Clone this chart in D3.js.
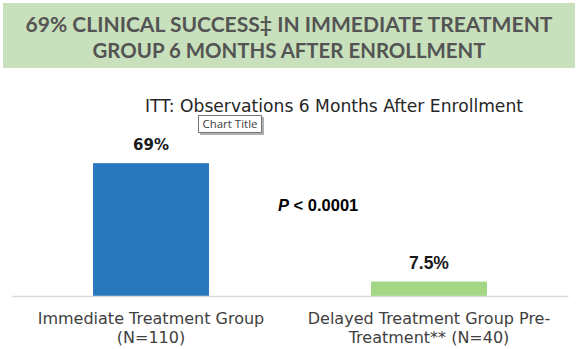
<!DOCTYPE html>
<html><head><meta charset="utf-8">
<script src="https://cdn.jsdelivr.net/npm/d3@7"></script>
<style>
html,body{margin:0;padding:0;background:#fff;}
svg{display:block;}
</style></head>
<body>
<svg id="chart" width="581" height="349"></svg>
<script>
const headerLines = ["69% CLINICAL SUCCESS\u2021 IN IMMEDIATE TREATMENT", "GROUP 6 MONTHS AFTER ENROLLMENT"];
const chartTitle = "ITT: Observations 6 Months After Enrollment";
const categories = ["Immediate Treatment Group (N=110)", "Delayed Treatment Group Pre-Treatment** (N=40)"];
const categoryLines = [["Immediate Treatment Group", "(N=110)"], ["Delayed Treatment Group Pre-", "Treatment** (N=40)"]];
const values = [69, 7.5];
const valueLabels = ["69%", "7.5%"];
const barColors = ["#2878bd", "#a3d685"];
const pValueText = ["P", " < 0.0001"];

const svg = d3.select("#chart");
const geo = "'DejaVu Sans', 'Century Gothic', sans-serif";

// Header banner
svg.append("rect").attr("x", 3).attr("y", 3).attr("width", 572).attr("height", 65).attr("fill", "#c8e1bc");
const headerWidths = [527, 393];
const headerBase = [32, 58];
headerLines.forEach((t, i) => {
  svg.append("text").attr("x", 289).attr("y", headerBase[i]).attr("text-anchor", "middle")
    .attr("font-family", "Lato, 'DejaVu Sans', sans-serif").attr("font-weight", "bold").attr("font-size", 21)
    .attr("fill", "#545454").attr("textLength", headerWidths[i]).attr("lengthAdjust", "spacingAndGlyphs")
    .text(t);
});

// Chart title
svg.append("text").attr("x", 334).attr("y", 112).attr("text-anchor", "middle")
  .attr("font-family", geo).attr("font-size", 17.5).attr("fill", "#262626")
  .attr("textLength", 378).attr("lengthAdjust", "spacingAndGlyphs").text(chartTitle);

// Scales
const x = d3.scaleBand().domain(categories).range([12, 568]).paddingInner(0.583).paddingOuter(0.2915);
const y = d3.scaleLinear().domain([0, 80]).range([296, 142]);

// Bars
svg.selectAll("rect.bar").data(values).join("rect").attr("class", "bar")
  .attr("x", (d, i) => x(categories[i])).attr("width", x.bandwidth())
  .attr("y", d => y(d)).attr("height", d => y(0) - y(d))
  .attr("fill", (d, i) => barColors[i]);

// Axis
const axis = svg.append("g").attr("transform", `translate(0,${y(0)})`)
  .call(d3.axisBottom(x).tickSize(0).tickSizeOuter(0).tickFormat(""));
axis.select(".domain").attr("stroke", "#d9d9d9").attr("stroke-width", 1.3);
axis.selectAll(".tick text").remove();
categories.forEach((c, i) => {
  categoryLines[i].forEach((line, j) => {
    svg.append("text").attr("text-anchor", "middle")
      .attr("font-family", geo).attr("font-size", 16).attr("fill", "#404040")
      .attr("x", x(c) + x.bandwidth() / 2).attr("y", 323.5 + j * 19).text(line);
  });
});

// Value labels
svg.append("text").attr("x", x(categories[0]) + x.bandwidth() / 2).attr("y", y(values[0]) - 13)
  .attr("text-anchor", "middle").attr("font-family", geo).attr("font-weight", "bold")
  .attr("font-size", 15).attr("fill", "#1a1a1a").text(valueLabels[0]);
svg.append("text").attr("x", x(categories[1]) + x.bandwidth() / 2).attr("y", y(values[1]) - 13)
  .attr("text-anchor", "middle").attr("font-family", "'Liberation Sans', Arial, sans-serif").attr("font-weight", "bold")
  .attr("font-size", 17.5).attr("fill", "#1a1a1a").text(valueLabels[1]);

// P value annotation
const pv = svg.append("text").attr("x", 278).attr("y", 211)
  .attr("font-family", "'Liberation Sans', Arial, sans-serif").attr("font-weight", "bold")
  .attr("font-size", 16.5).attr("fill", "#000");
pv.append("tspan").attr("font-style", "italic").text(pValueText[0]);
pv.append("tspan").text(pValueText[1]);

// "Chart Title" tooltip
svg.append("rect").attr("x", 200).attr("y", 117).attr("width", 64).attr("height", 18).attr("fill", "#b0b0b0");
svg.append("rect").attr("x", 198.5).attr("y", 115.5).attr("width", 63).attr("height", 17)
  .attr("fill", "#fff").attr("stroke", "#767676").attr("stroke-width", 1);
svg.append("text").attr("x", 230).attr("y", 128).attr("text-anchor", "middle")
  .attr("font-family", "'Open Sans', 'Noto Sans', sans-serif").attr("font-size", 11.5).attr("fill", "#404040")
  .attr("textLength", 55).attr("lengthAdjust", "spacingAndGlyphs")
  .text("Chart Title");
</script>
</body></html>
